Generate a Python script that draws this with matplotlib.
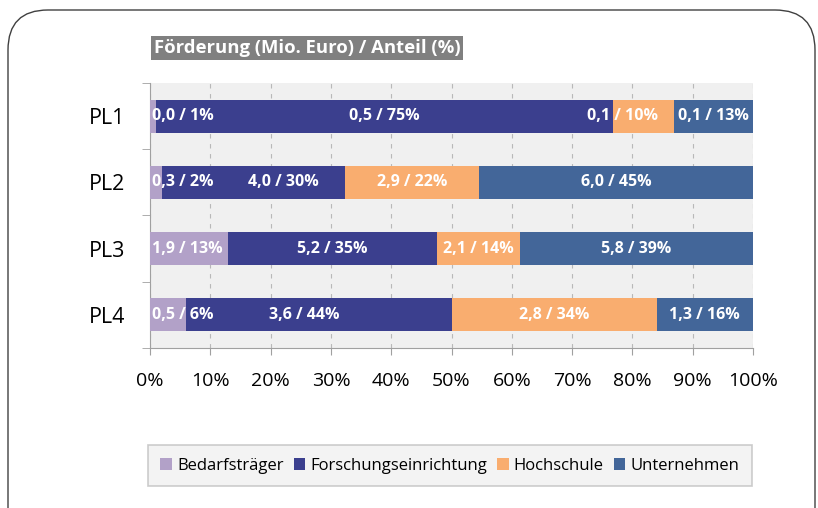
import numpy as np
import matplotlib
matplotlib.use('Agg')
import matplotlib.pyplot as plt
from matplotlib.patches import FancyBboxPatch, Patch
from matplotlib.transforms import IdentityTransform

plt.rcParams['font.family'] = ['Open Sans', 'DejaVu Sans']

# data
projects = ['PL1', 'PL2', 'PL3', 'PL4']
groups = ['Bedarfsträger', 'Forschungseinrichtung', 'Hochschule', 'Unternehmen']
# funding in Mio. Euro
funding = {
    'Bedarfsträger':         [0.0, 0.3, 1.9, 0.5],
    'Forschungseinrichtung': [0.5, 4.0, 5.2, 3.6],
    'Hochschule':            [0.1, 2.9, 2.1, 2.8],
    'Unternehmen':           [0.1, 6.0, 5.8, 1.3],
}
# share in %
share = {
    'Bedarfsträger':         [1, 2, 13, 6],
    'Forschungseinrichtung': [75, 30, 35, 44],
    'Hochschule':            [10, 22, 14, 34],
    'Unternehmen':           [13, 45, 39, 16],
}
colors = ['#b2a1c8', '#3b3f8e', '#f9ad6f', '#436699']

fig = plt.figure(figsize=(8.18, 5.08), dpi=100)
ax = fig.add_axes([0.1834, 0.315, 0.7372, 0.5216])
ax.set_facecolor('#f0f0f0')

y = np.arange(len(projects))
shares = np.array([share[g] for g in groups], dtype=float)
shares = shares / shares.sum(axis=0) * 100  # normalise each bar to 100 %
left = np.zeros(len(projects))
for i, g in enumerate(groups):
    ax.barh(y, shares[i], left=left, height=0.5, color=colors[i], zorder=3)
    for j in range(len(projects)):
        txt = f"{funding[g][j]:.1f} / {share[g][j]}%".replace('.', ',')
        cx = left[j] + shares[i][j] / 2
        ha = 'center'
        if i == 0 and shares[i][j] < 10:
            cx, ha = 0.3, 'left'
        if i == 0 and j == 2:
            cx, ha = 0.3, 'left'
        if i == 1 and j == 1:
            cx += 5
        if i == 1 and j == 3:
            cx -= 2.5
        if i == 2 and j == 0:
            cx -= 3.5
        ax.text(cx, y[j], txt, ha=ha, va='center', color='white',
                fontsize=11.5, fontweight='bold', zorder=4)
    left += shares[i]

ax.set_xlim(0, 100)
ax.set_ylim(len(projects) - 0.5, -0.5)
ax.set_xticks(np.arange(0, 101, 10))
ax.set_xticklabels([f'{v}%' for v in range(0, 101, 10)], fontsize=14)
ax.set_yticks(y)
ax.set_yticklabels(projects, fontsize=15.5)
ax.set_yticks(np.arange(-0.5, len(projects), 1), minor=True)
ax.tick_params(axis='y', which='major', length=0, pad=18)
ax.tick_params(axis='y', which='minor', length=6, color='#a0a0a0')
ax.tick_params(axis='x', length=5, color='#a0a0a0', pad=12)
ax.grid(axis='x', color='#b8b8b8', linestyle=(0, (4, 5)), linewidth=0.8, zorder=0)
for s in ['top', 'right']:
    ax.spines[s].set_visible(False)
for s in ['left', 'bottom']:
    ax.spines[s].set_color('#a0a0a0')

# title box
fig.text(0.1880, 0.905, 'Förderung (Mio. Euro) / Anteil (%)', color='white',
         fontsize=13.3, fontweight='bold', va='center', ha='left',
         bbox=dict(facecolor='#808080', edgecolor='none', boxstyle='square,pad=0.15'))

# legend
handles = [Patch(facecolor=c) for c in colors]
leg = fig.legend(handles, groups, loc='center', bbox_to_anchor=(0.55, 0.083),
                 ncol=4, fontsize=12, frameon=True, fancybox=False, shadow=False,
                 facecolor='#f0f0f0', edgecolor='#c0c0c0', handlelength=0.7,
                 handleheight=0.7, handletextpad=0.3, columnspacing=0.6,
                 borderpad=0.75, borderaxespad=0)
leg.get_frame().set_linewidth(1.2)

# outer rounded frame
frame = FancyBboxPatch((48, -60), 727, 518, boxstyle='round,pad=40,rounding_size=40',
                       transform=IdentityTransform(), facecolor='none',
                       edgecolor='#404040', linewidth=1.0, zorder=0)
fig.patches.append(frame)

fig.savefig('out.png', dpi=100)
